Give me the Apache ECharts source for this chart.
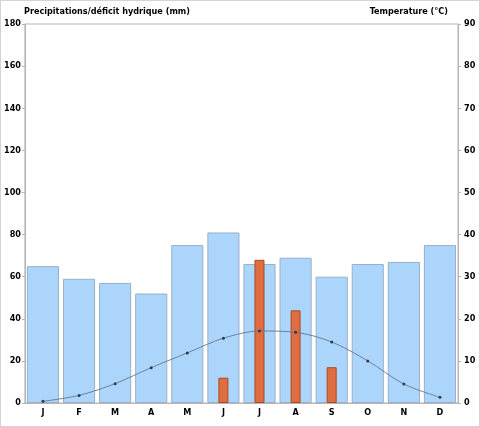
<!DOCTYPE html>
<html><head><meta charset="utf-8">
<script src="https://cdn.jsdelivr.net/npm/echarts@6/dist/echarts.min.js"></script>
<style>html,body{margin:0;padding:0;background:#fff}#c{width:478px;height:425px;border:1px solid #d4d4d4}</style>
</head><body><div id="c"></div>
<script>
const months = ['J','F','M','A','M','J','J','A','S','O','N','D'];
const precipitation = [65, 59, 57, 52, 75, 81, 66, 69, 60, 66, 67, 75];
const deficit = [null, null, null, null, null, 12, 68, 44, 17, null, null, null];
const temperature = [0.4, 1.8, 4.6, 8.4, 11.9, 15.4, 17.1, 16.8, 14.5, 10.0, 4.5, 1.35];
const leftTicks = [0, 20, 40, 60, 80, 100, 120, 140, 160, 180];
const rightTicks = [0, 10, 20, 30, 40, 50, 60, 70, 80, 90];

const font = '"DejaVu Sans Condensed", "DejaVu Sans"';
const lbl = {fontFamily: font, fontWeight: 'bold', fontSize: 9, color: '#000'};
const chart = echarts.init(document.getElementById('c'), null, {renderer: 'canvas'});
chart.setOption({
  animation: false,
  title: [
    {text: 'Precipitations/déficit hydrique (mm)', left: 23, top: 6, padding: 0,
     textStyle: {fontFamily: font, fontWeight: 'bold', fontSize: 9, color: '#000'}},
    {text: 'Temperature (°C)', right: 31, top: 6, padding: 0,
     textStyle: {fontFamily: font, fontWeight: 'bold', fontSize: 9, color: '#000'}}
  ],
  grid: {left: 23, right: 21, top: 23, bottom: 23, show: true, borderColor: '#b5b5b5', borderWidth: 1},
  xAxis: [
    {type: 'category', data: months, axisLine: {lineStyle: {color: '#b5b5b5'}},
     axisTick: {show: false}, axisLabel: Object.assign({margin: 5}, lbl)},
    {type: 'category', data: months, show: false}
  ],
  yAxis: [
    {type: 'value', min: 0, max: 180, interval: 20, splitLine: {show: false},
     axisLine: {show: true, lineStyle: {color: '#b5b5b5'}},
     axisTick: {show: true, length: 3, lineStyle: {color: '#b5b5b5'}},
     axisLabel: Object.assign({margin: 4}, lbl)},
    {type: 'value', min: 0, max: 90, interval: 10, splitLine: {show: false},
     axisLine: {show: true, lineStyle: {color: '#b5b5b5'}},
     axisTick: {show: true, length: 3, lineStyle: {color: '#b5b5b5'}},
     axisLabel: Object.assign({margin: 6}, lbl)}
  ],
  series: [
    {type: 'bar', name: 'Precipitations', data: precipitation, xAxisIndex: 0, yAxisIndex: 0,
     barCategoryGap: '11%',
     itemStyle: {color: '#acd5fc', borderColor: '#9aafc8', borderWidth: 1}},
    {type: 'bar', name: 'Déficit', data: deficit, xAxisIndex: 1, yAxisIndex: 0,
     barWidth: 10,
     itemStyle: {color: '#df6d40', borderColor: '#a84a26', borderWidth: 1}},
    {type: 'line', name: 'Temperature', data: temperature, xAxisIndex: 0, yAxisIndex: 1,
     smooth: 0.3, symbol: 'circle', symbolSize: 3,
     lineStyle: {color: '#6f7f96', width: 1},
     itemStyle: {color: '#2f3b4c'}}
  ]
});
</script></body></html>
